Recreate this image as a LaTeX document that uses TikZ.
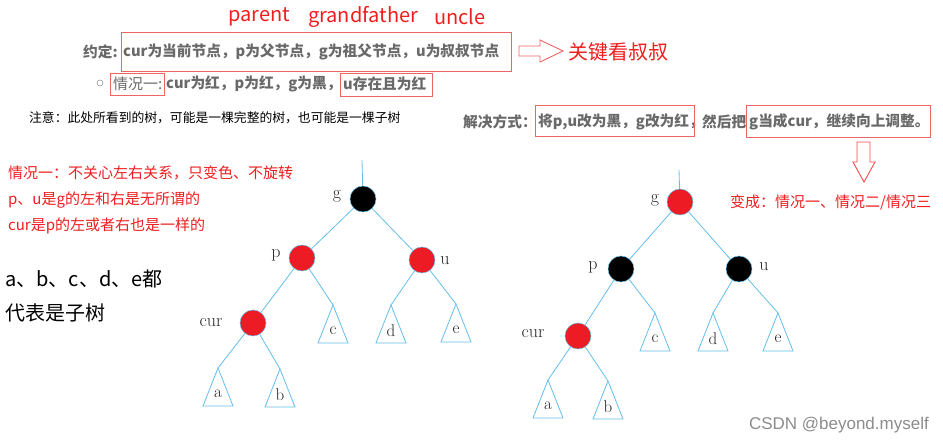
\documentclass[tikz,border=0pt]{standalone}
\usepackage{fontspec}
\newfontfamily\cjk{Noto Sans CJK SC}
\newfontfamily\wmfont{Liberation Sans}
\usetikzlibrary{calc}
\definecolor{tred}{RGB}{240,30,30}
\definecolor{bred}{RGB}{236,100,100}
\definecolor{tgray}{RGB}{105,105,105}
\definecolor{nred}{RGB}{237,28,36}
\definecolor{eblue}{RGB}{100,190,235}
\begin{document}
\begin{tikzpicture}[x=1pt,y=-1pt,
  txt/.style={inner sep=0pt, anchor=west, font=\cjk\fontsize{15}{18}\selectfont},
  gtxt/.style={txt, text=tgray, font=\cjk\bfseries\fontsize{14.7}{18}\selectfont},
  ntxt/.style={txt, text=tgray},
  rtxt/.style={txt, text=tred},
  btxt/.style={txt, text=black},
  bigtxt/.style={txt, text=black, font=\cjk\fontsize{20}{24}\selectfont},
  redbig/.style={txt, text=tred, font=\cjk\fontsize{20}{24}\selectfont},
  box/.style={draw=bred, line width=0.9pt},
  edge/.style={draw=eblue, line width=0.8pt},
  rn/.style={circle, minimum size=26pt, inner sep=0pt, fill=nred, draw=eblue, line width=0.5pt},
  bn/.style={rn, fill=black},
  lab/.style={inner sep=0pt, text=black!85, font=\fontsize{18}{20}\selectfont},
  leaf/.style={inner sep=0pt, text=black!85, font=\fontsize{17}{19}\selectfont}
]
\useasboundingbox (0,0) rectangle (943,443);
\newcommand\subtree[4]{%
  \coordinate (#1) at (#2,#3);
  \draw[edge] (#1) -- ++(-15,38) -- ++(30,0) -- cycle;
  \node[leaf] (#1l) at ($(#1)+(0,26)$) {#4};}

% header words
\node[redbig] (par) at (228,17) {parent};
\node[redbig] (gf) at (308,17) {grandfather};
\node[redbig] (unc) at (434,17) {uncle};

% line 1
\node[gtxt] (yd) at (83,52) {约定:};
\node[gtxt] (def) at (123,52) {cur为当前节点，p为父节点，g为祖父节点，u为叔叔节点};
\draw[box] (121,32) rectangle (511,71);
\draw[box] (519,46) -- (540,46) -- (540,40) -- (563,51) -- (540,62) -- (540,56) -- (519,56) -- cycle;
\node[redbig] (key) at (568,52) {关键看叔叔};

% line 2
\draw[tgray!70, line width=0.6pt] (100,83) circle (3);
\node[ntxt] (c1) at (113,84) {情况一:};
\draw[box] (110,73) rectangle (164,95);
\node[gtxt] (c1t) at (166,84) {cur为红，p为红，g为黑，};
\node[gtxt] (c1u) at (343,84) {u存在且为红};
\draw[box] (340,73) rectangle (432,96);

% note
\node[btxt, font=\cjk\fontsize{12.8}{15}\selectfont] (note) at (29,118) {注意：此处所看到的树，可能是一棵完整的树，也可能是一棵子树};

% solution
\node[gtxt] (sol) at (463,122) {解决方式：};
\node[gtxt] (s1) at (538,122) {将p,u改为黑，g改为红，};
\draw[box] (535,105) rectangle (694,136);
\node[gtxt] (s2) at (702,122) {然后把};
\node[gtxt] (s3) at (749,122) {g当成cur，继续向上调整。};
\draw[box] (746,105) rectangle (930,137);
\draw[box, draw=tred!80] (857,142) -- (870,142) -- (870,162) -- (875,162) -- (864,182) -- (853,162) -- (857,162) -- cycle;
\node[rtxt] (chg) at (730,202) {变成：情况一、情况二/情况三};

% left notes
\node[rtxt] (l1) at (8,173) {情况一：不关心左右关系，只变色、不旋转};
\node[rtxt] (l2) at (8,200) {p、u是g的左和右是无所谓的};
\node[rtxt] (l3) at (8,226) {cur是p的左或者右也是一样的};
\node[bigtxt] (l4) at (5,279) {a、b、c、d、e都};
\node[bigtxt] (l5) at (5,313) {代表是子树};

% left tree
\coordinate (ltop) at (362,160);
\node[bn] (Lg) at (363,199) {};
\node[rn] (Lp) at (302,258) {};
\node[rn] (Lu) at (422,260) {};
\node[rn] (Lc) at (253,323) {};
\node[lab] at (337,196) {g};
\node[lab] at (276,255) {p};
\node[lab] at (445,261) {u};
\node[lab] at (211,323) {cur};
\subtree{Lsc}{333}{305}{c}
\subtree{Lsd}{391}{305}{d}
\subtree{Lse}{456}{304}{e}
\subtree{Lsa}{218}{368}{a}
\subtree{Lsb}{280}{369}{b}
\draw[edge] (ltop) -- (Lg);
\draw[edge] (Lg) -- (Lp);
\draw[edge] (Lg) -- (Lu);
\draw[edge] (Lp) -- (Lc);
\draw[edge] (Lp) -- (Lsc);
\draw[edge] (Lu) -- (Lsd);
\draw[edge] (Lu) -- (Lse);
\draw[edge] (Lc) -- (Lsa);
\draw[edge] (Lc) -- (Lsb);

% right tree
\coordinate (rtop) at (679,170);
\node[rn] (Rg) at (680,202) {};
\node[bn] (Rp) at (621,269) {};
\node[bn] (Ru) at (739,269) {};
\node[rn] (Rc) at (578,336) {};
\node[lab] at (655,200) {g};
\node[lab] at (593,267) {p};
\node[lab] at (764,267) {u};
\node[lab] at (533,334) {cur};
\subtree{Rsc}{655}{313}{c}
\subtree{Rsd}{713}{313}{d}
\subtree{Rse}{778}{313}{e}
\subtree{Rsa}{548}{380}{a}
\subtree{Rsb}{608}{381}{b}
\draw[edge] (rtop) -- (Rg);
\draw[edge] (Rg) -- (Rp);
\draw[edge] (Rg) -- (Ru);
\draw[edge] (Rp) -- (Rc);
\draw[edge] (Rp) -- (Rsc);
\draw[edge] (Ru) -- (Rsd);
\draw[edge] (Ru) -- (Rse);
\draw[edge] (Rc) -- (Rsa);
\draw[edge] (Rc) -- (Rsb);

% watermark
\node[inner sep=0pt, anchor=east, text=black!45, font=\wmfont\fontsize{17}{20}\selectfont] (wm) at (929,425) {CSDN @beyond.myself};
\end{tikzpicture}
\end{document}
